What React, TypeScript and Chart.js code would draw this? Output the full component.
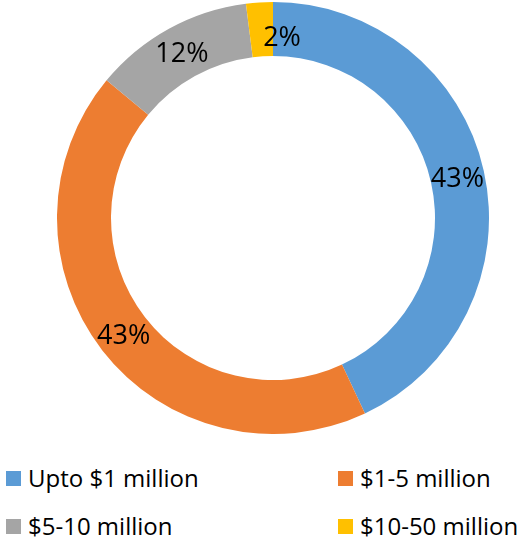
import React, { useEffect, useRef } from "react";
import { Chart, registerables } from "chart.js";

Chart.register(...registerables);

const categories = ["Upto $1 million", "$1-5 million", "$5-10 million", "$10-50 million"];
const values = [43, 43, 12, 2];
const colors = ["#5B9BD5", "#ED7D31", "#A5A5A5", "#FFC000"];

const labelPlugin = {
  id: "pctLabels",
  afterDatasetsDraw(chart: any) {
    const ctx = chart.ctx;
    const meta = chart.getDatasetMeta(0);
    const total = values.reduce((a, b) => a + b, 0);
    ctx.save();
    ctx.font = "27px 'Open Sans'";
    ctx.fillStyle = "#000000";
    ctx.textBaseline = "alphabetic";
    meta.data.forEach((arc: any, i: number) => {
      const v = values[i];
      const share = v / total;
      const pos = arc.tooltipPosition();
      const text = `${v}%`;
      if (share < 0.05) {
        ctx.textAlign = "left";
        ctx.fillText(text, pos.x + 2, pos.y + 17);
      } else {
        ctx.textAlign = "center";
        ctx.fillText(text, pos.x, pos.y + 10);
      }
    });
    ctx.restore();
  },
};

export default function App() {
  const ref = useRef<HTMLCanvasElement | null>(null);
  useEffect(() => {
    document.body.style.margin = "0";
    const chart = new Chart(ref.current as HTMLCanvasElement, {
      type: "doughnut",
      data: {
        labels: categories,
        datasets: [
          {
            data: values,
            backgroundColor: colors,
            borderWidth: 0,
          },
        ],
      },
      options: {
        animation: false,
        responsive: false,
        cutout: "75%",
        layout: { padding: 0 },
        plugins: {
          legend: { display: false },
          tooltip: { enabled: false },
        },
      },
      plugins: [labelPlugin],
    });
    return () => chart.destroy();
  }, []);

  const legendPos = [
    { left: 6, top: 471 },
    { left: 338, top: 471 },
    { left: 6, top: 519 },
    { left: 338, top: 519 },
  ];

  return (
    <div style={{ position: "absolute", left: 0, top: 0, width: 527, height: 540, background: "#fff", overflow: "hidden" }}>
      <canvas ref={ref} width={432} height={432} style={{ position: "absolute", left: 57, top: 2, width: 432, height: 432 }} />
      {categories.map((c, i) => (
        <React.Fragment key={c}>
          <div
            style={{
              position: "absolute",
              left: legendPos[i].left,
              top: legendPos[i].top,
              width: 15,
              height: 15,
              background: colors[i],
            }}
          />
          <div
            style={{
              position: "absolute",
              left: legendPos[i].left + 22,
              top: legendPos[i].top - 10,
              fontFamily: "'Open Sans'",
              fontSize: 24,
              lineHeight: "33px",
              color: "#000",
              whiteSpace: "nowrap",
            }}
          >
            {c}
          </div>
        </React.Fragment>
      ))}
    </div>
  );
}
